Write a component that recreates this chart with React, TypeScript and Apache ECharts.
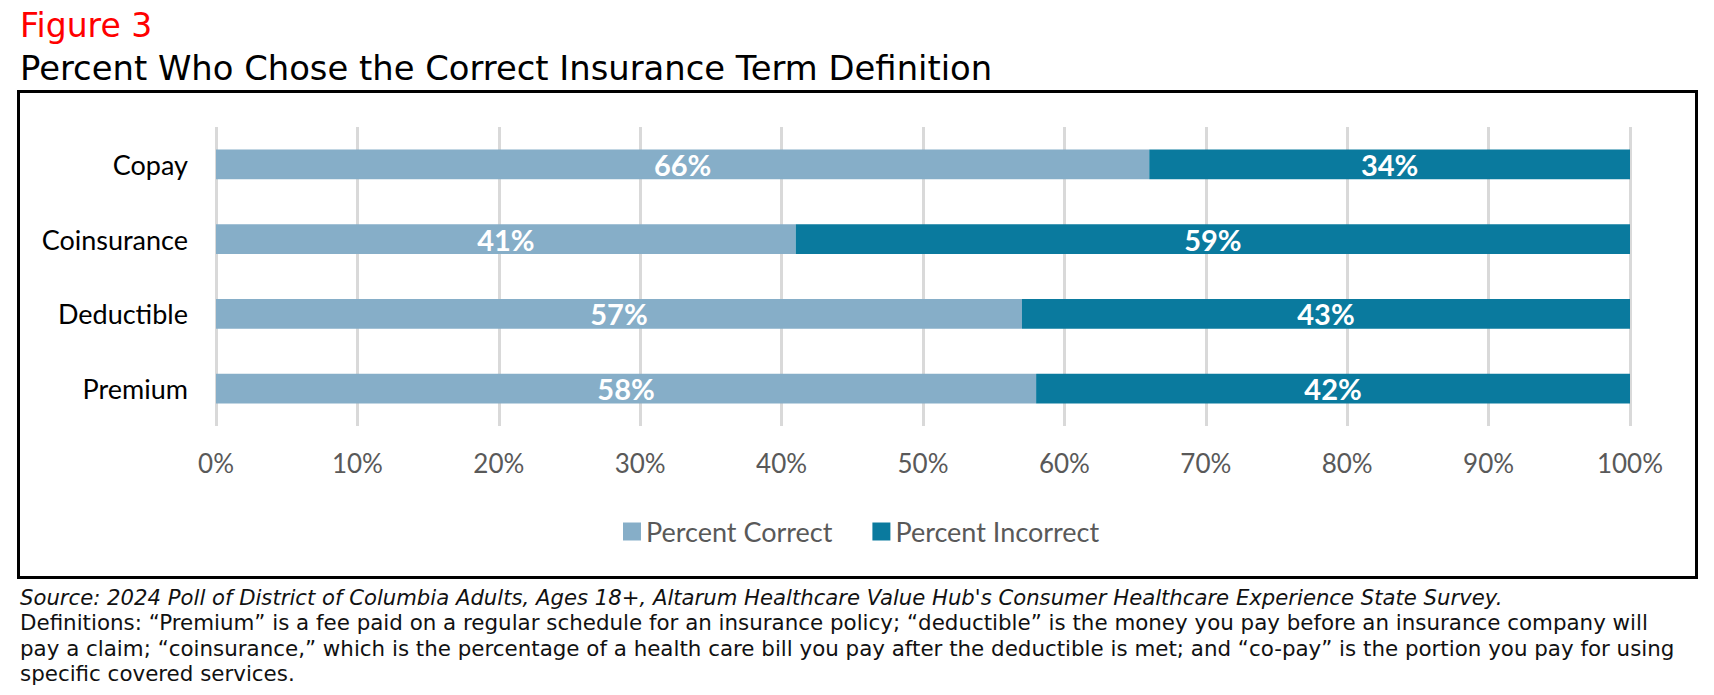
import React, { useEffect, useRef } from "react";
import * as echarts from "echarts";

const categories = ["Copay", "Coinsurance", "Deductible", "Premium"];
const percentCorrect = [66, 41, 57, 58];
const percentIncorrect = [34, 59, 43, 42];
const seriesNames = ["Percent Correct", "Percent Incorrect"];
const figureLabel = "Figure 3";
const titleText = "Percent Who Chose the Correct Insurance Term Definition";
const sourceLine =
  "Source: 2024 Poll of District of Columbia Adults, Ages 18+, Altarum Healthcare Value Hub's Consumer Healthcare Experience State Survey.";
const definitionLines = [
  "Definitions: \u201cPremium\u201d is a fee paid on a regular schedule for an insurance policy; \u201cdeductible\u201d is the money you pay before an insurance company will",
  "pay a claim; \u201ccoinsurance,\u201d which is the percentage of a health care bill you pay after the deductible is met; and \u201cco-pay\u201d is the portion you pay for using",
  "specific covered services.",
];

const LIGHT = "#86AEC8";
const DARK = "#0A7A9E";

export default function App() {
  const ref = useRef<HTMLDivElement>(null);

  useEffect(() => {
    document.body.style.margin = "0";
    const chart = echarts.init(ref.current!, undefined, { renderer: "svg" });

    const footFont = { fontFamily: "DejaVu Sans", fill: "#111" };
    const footLines = [sourceLine, ...definitionLines];

    const option: any = {
      animation: false,
      backgroundColor: "#ffffff",
      grid: { left: 216, right: 84, top: 127, bottom: 269 },
      xAxis: {
        type: "value",
        min: 0,
        max: 100,
        interval: 10,
        axisLine: { show: false },
        axisTick: { show: false },
        splitLine: { show: true, lineStyle: { color: "#D9D9D9", width: 3 } },
        axisLabel: {
          formatter: "{value}%",
          color: "#595959",
          fontFamily: "Lato",
          fontSize: 26,
          margin: 24,
        },
      },
      yAxis: {
        type: "category",
        data: categories,
        inverse: true,
        axisLine: { show: false },
        axisTick: { show: false },
        axisLabel: {
          color: "#000000",
          fontFamily: "Lato",
          fontSize: 27,
          margin: 28,
        },
      },
      legend: {
        left: 618,
        top: 513,
        itemWidth: 18,
        itemHeight: 18,
        itemGap: 40,
        icon: "rect",
        textStyle: { color: "#595959", fontFamily: "Lato", fontSize: 27, padding: [0, 0, 0, 0] },
        data: seriesNames,
      },
      series: [
        {
          name: seriesNames[0],
          type: "bar",
          stack: "total",
          barWidth: "40%",
          data: percentCorrect,
          itemStyle: { color: LIGHT },
          label: {
            show: true,
            position: "inside",
            formatter: "{c}%",
            color: "#ffffff",
            fontFamily: "Lato",
            fontWeight: "bold",
            fontSize: 29,
          },
        },
        {
          name: seriesNames[1],
          type: "bar",
          stack: "total",
          barWidth: "40%",
          data: percentIncorrect,
          itemStyle: { color: DARK },
          label: {
            show: true,
            position: "inside",
            formatter: "{c}%",
            color: "#ffffff",
            fontFamily: "Lato",
            fontWeight: "bold",
            fontSize: 29,
          },
        },
      ],
      graphic: [
        {
          type: "text",
          left: 20,
          top: 9,
          style: {
            text: figureLabel,
            fill: "#FF0000",
            fontFamily: "DejaVu Sans",
            fontSize: 33,
          },
        },
        {
          type: "text",
          left: 20,
          top: 51,
          style: {
            text: titleText,
            fill: "#000000",
            fontFamily: "DejaVu Sans",
            fontSize: 33.8,
          },
        },
        {
          type: "rect",
          shape: { x: 18.5, y: 91.5, width: 1678, height: 486 },
          style: { fill: "none", stroke: "#000000", lineWidth: 3 },
          z: 10,
        },
        ...footLines.map((t, i) => ({
          type: "text",
          x: 20,
          y: 597 + i * 25.5,
          style: {
            ...footFont,
            text: t,
            fontSize: i === 0 ? 21.2 : 21.4,
            fontStyle: i === 0 ? "italic" : "normal",
            verticalAlign: "middle",
          },
        })),
      ],
    };

    chart.setOption(option);
    return () => chart.dispose();
  }, []);

  return <div ref={ref} style={{ width: 1714, height: 695 }} />;
}
